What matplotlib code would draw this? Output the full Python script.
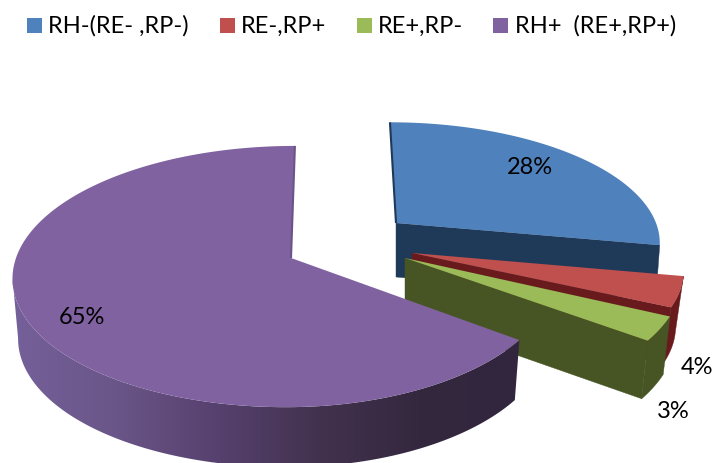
import numpy as np
import matplotlib
matplotlib.use("Agg")
import matplotlib.pyplot as plt
from matplotlib.colors import LinearSegmentedColormap
from matplotlib.patches import Polygon, Rectangle

categories = ["RH-(RE- ,RP-)", "RE-,RP+", "RE+,RP-", "RH+  (RE+,RP+)"]
values = [28, 4, 3, 65]

top_colors = ["#4F81BD", "#C0504D", "#9BBB59", "#8062A0"]
wall_colors = ["#1F3A58", "#681A1C", "#465523", "#3A2C4A"]

# layout of each exploded slice: apex x/y, radii, forward lean, extrusion
apex_x = [396, 412, 405, 291]
apex_y = [223, 253, 258, 258]
radius_right = [260, 269, 275, 262]
radius_left = [260, 269, 275, 275]
radius_y = [115, 120, 129, 128]
lean = [0.06, 0.0, 0.0, -0.035]
depth = [54, 56, 58, 60]
base_scale = [0.985, 0.97, 0.975, 0.98]
PERSPECTIVE = 0.142

legend_box_x = [27, 220, 357, 493]
legend_text_x = [48, 241, 378, 515]
label_xy = [(530, 167), (697, 367), (673, 411), (82, 317)]

FONT = "Lato"


def rim_points(i, theta):
    # clockwise from twelve o'clock, with nearer points drawn larger
    u = np.sin(theta)
    v = -np.cos(theta)
    s = 1 / (1 - PERSPECTIVE * v)
    dy = radius_y[i] * v * s
    dx = np.where(u > 0, radius_right[i], radius_left[i]) * u * s + lean[i] * dy
    return apex_x[i] + dx, apex_y[i] + dy


def lower(i, x, y):
    # same points on the underside of the extruded slice
    return apex_x[i] + (x - apex_x[i]) * base_scale[i], y + depth[i]


def wall(ax, x, y, i, color, z):
    bx, by = lower(i, x, y)
    pts = np.column_stack([np.r_[x, bx[::-1]], np.r_[y, by[::-1]]])
    return ax.add_patch(Polygon(pts, closed=True, fc=color, ec=color, lw=0.3, zorder=z))


fig = plt.figure(figsize=(7.15, 4.63), dpi=100)
ax = fig.add_axes([0, 0, 1, 1])

side_cmap = LinearSegmentedColormap.from_list(
    "side", ["#75609A", "#6A5688", "#57416F", "#43324F", "#34283F", "#32263E"])

edges = np.radians(np.r_[0, np.cumsum(values)] / sum(values) * 360)

for i in range(len(values)):
    z = 1 + i * 3
    theta = np.linspace(edges[i], edges[i + 1], 200)
    rx, ry = rim_points(i, theta)

    # cut face along the trailing edge of the slice
    if i < 3:
        wall(ax, np.array([apex_x[i], rx[-1]]), np.array([apex_y[i], ry[-1]]),
             i, wall_colors[i], z)
    # cut face that faces away, only a sliver of it shows
    if i in (0, 3):
        edge_t = 0 if i == 0 else -1
        ax.plot([apex_x[i], rx[edge_t]], [apex_y[i], ry[edge_t]],
                color=wall_colors[i] if i == 0 else "#6B5489",
                lw=1.5, zorder=z + 2, solid_capstyle="butt")

    # outer rim, shaded from left to right on the big slice
    if i == 3:
        # stop at the leftmost point so the outline does not cross itself
        k = np.argmin(rx) + 1
        rim = wall(ax, rx[:k], ry[:k], i, "none", z)
        rim.set_edgecolor("none")
        ramp = np.linspace(0, 1, 256).reshape(1, -1)
        img = ax.imshow(ramp, cmap=side_cmap, extent=(rx.min() - 2, rx.max(), 470, 250),
                        aspect="auto", zorder=z)
        img.set_clip_path(rim)
    elif i > 0:
        wall(ax, rx, ry, i, wall_colors[i], z)

    pts = np.column_stack([np.r_[apex_x[i], rx], np.r_[apex_y[i], ry]])
    ax.add_patch(Polygon(pts, closed=True, fc=top_colors[i], ec="none", zorder=z + 1))

    ax.text(label_xy[i][0], label_xy[i][1], f"{values[i]}%", fontsize=17,
            family=FONT, color="black", ha="center", va="center", zorder=30)

    ax.add_patch(Rectangle((legend_box_x[i], 18), 15, 15, fc=top_colors[i], ec="none"))
    ax.text(legend_text_x[i], 26, categories[i], fontsize=17, family=FONT,
            color="black", ha="left", va="center")

ax.set_xlim(0, 715)
ax.set_ylim(463, 0)
ax.axis("off")

fig.savefig("out.png", dpi=100)
plt.close()
